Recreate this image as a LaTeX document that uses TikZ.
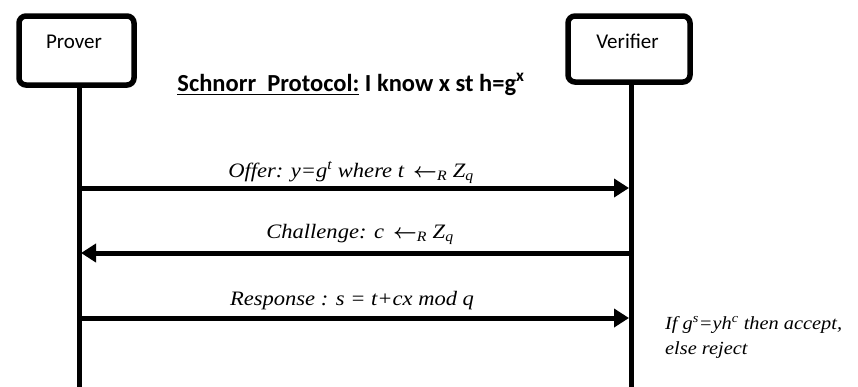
\documentclass[tikz,border=0pt]{standalone}
\usepackage{amsmath}
\usepackage{fontspec}
\setmainfont{Carlito}
\newfontfamily\msgfont[FakeStretch=1.1]{Liberation Serif}
\usetikzlibrary{arrows.meta,shadows}

\begin{document}
\begin{tikzpicture}[x=1pt,y=-1pt,
  actor/.style={draw, line width=5.5pt, rounded corners=7pt, fill=white,
    drop shadow={opacity=0.35, shadow xshift=2pt, shadow yshift=-2pt}},
  actorname/.style={font=\fontsize{21}{24}\selectfont, anchor=base, inner sep=0pt},
  lifeline/.style={line width=5pt},
  msg/.style={line width=5pt, -{Triangle[length=15pt,width=18pt]}},
  msglabel/.style={font=\msgfont\itshape\fontsize{20.5}{23}\selectfont, anchor=base, inner sep=0pt},
  notelabel/.style={font=\msgfont\itshape\fontsize{18.5}{21}\selectfont, anchor=base west, inner sep=0pt},
]
\useasboundingbox (0,0) rectangle (858,386);

% participants
\node[actor, minimum width=115pt, minimum height=69pt] (prover) at (76.5,50.5) {};
\node[actor, minimum width=122pt, minimum height=66pt] (verifier) at (629,49) {};
\node[actorname] (provername) at (74,48) {Prover};
\node[actorname] (verifiername) at (627.5,48) {Verifier};

% title
\node[font=\fontsize{24.5}{28}\selectfont\bfseries, anchor=base, inner sep=0pt] (title) at (351,91)
  {\underline{Schnorr\ \ Protocol:} I know x st h=g\textsuperscript{x}};

% lifelines
\coordinate (pend) at (79,390);
\coordinate (vend) at (631,390);
\draw[lifeline] (prover.south -| pend) -- (pend);
\draw[lifeline] (verifier.south -| vend) -- (vend);

% message endpoints on the lifelines
\coordinate (p1) at (79,188);  \coordinate (v1) at (629,188);
\coordinate (p2) at (81,253);  \coordinate (v2) at (631,253);
\coordinate (p3) at (79,318);  \coordinate (v3) at (629,318);

% messages
\draw[msg] (p1) -- (v1)
  node[msglabel, pos=0.5, yshift=11pt, xshift=-3pt] (offer)
  {Offer: y=g\textsuperscript{t} where t \,$\boldsymbol{\leftarrow}$\textsubscript{R} Z\textsubscript{q}};
\draw[msg] (v2) -- (p2)
  node[msglabel, pos=0.5, yshift=15pt, xshift=4pt] (challenge)
  {Challenge: c \,$\boldsymbol{\leftarrow}$\textsubscript{R} Z\textsubscript{q}};
\draw[msg] (p3) -- (v3)
  node[msglabel, pos=0.5, yshift=13pt, xshift=-2pt] (response)
  {Response : s = t+cx mod q};

% verification rule
\node[notelabel] (check1) at (665,329)
  {If g\textsuperscript{s}=yh\textsuperscript{c} then accept,};
\node[notelabel] (check2) at (665,354) {else reject};
\end{tikzpicture}
\end{document}
